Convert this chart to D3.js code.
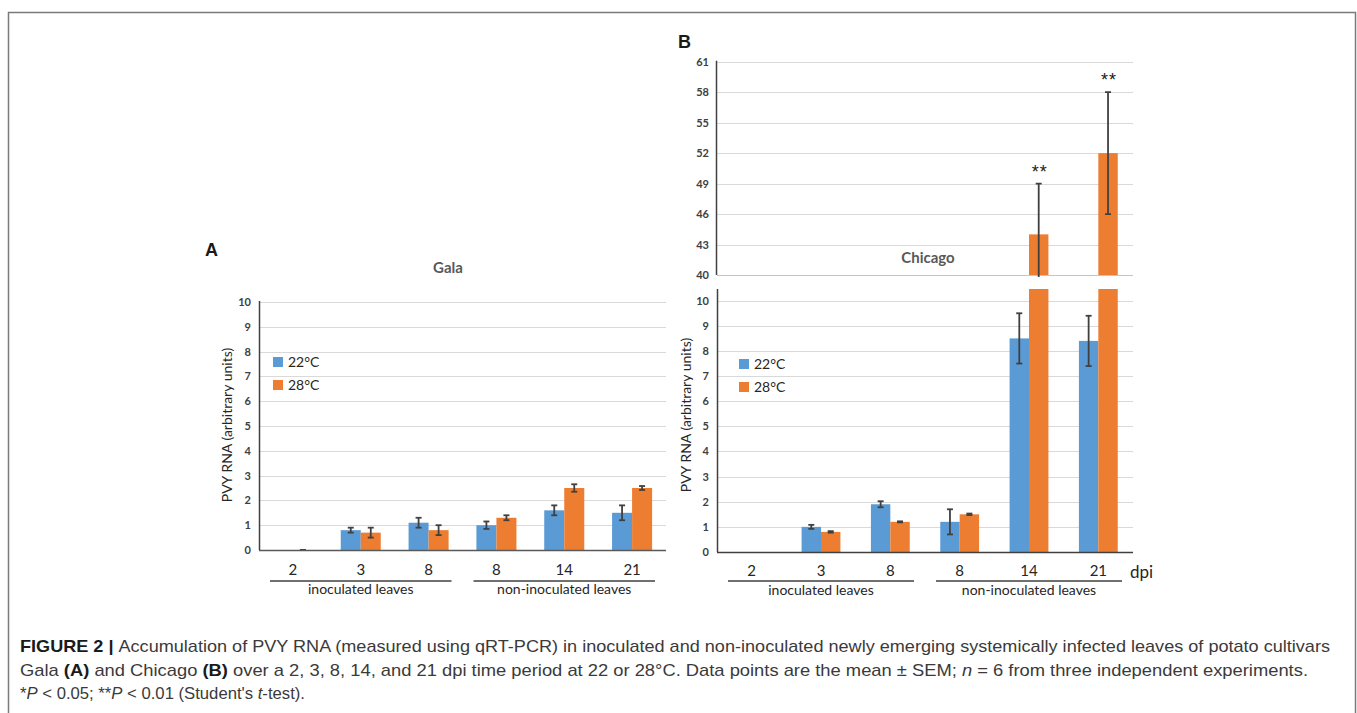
<!DOCTYPE html>
<html>
<head>
<meta charset="utf-8">
<script src="https://cdn.jsdelivr.net/npm/d3@7"></script>
<style>
body { margin: 0; background: #fff; }
svg { display: block; }
.chart text { font-family: Lato, "Open Sans", sans-serif; }
.caption text { font-family: "Liberation Sans", Arial, sans-serif; }
</style>
</head>
<body>
<svg id="fig" width="1357" height="713"></svg>
<script>

// x categories (dpi) and the two leaf groups
const dpiLabels = ["2", "3", "8", "8", "14", "21"];
const leafGroups = [
    { name: "inoculated leaves", from: 0, to: 2 },
    { name: "non-inoculated leaves", from: 3, to: 5 }
];
const series = ["22°C", "28°C"];
const seriesColors = ["#5b9bd5", "#ed7d31"];

// Panel A - Gala
const galaMean22 = [0, 0.8, 1.1, 1.0, 1.6, 1.5];
const galaErr22 = [null, 0.1, 0.2, 0.15, 0.2, 0.3];
const galaMean28 = [0, 0.7, 0.8, 1.3, 2.5, 2.5];
const galaErr28 = [0, 0.2, 0.2, 0.1, 0.15, 0.08];

// Panel B - Chicago
const chiMean22 = [0, 1.0, 1.9, 1.2, 8.5, 8.4];
const chiErr22 = [null, 0.08, 0.12, 0.5, 1.0, 1.0];
const chiMean28 = [0, 0.8, 1.2, 1.5, 44, 52];
const chiErr28 = [null, 0.03, 0.02, 0.03, 5, 6];
const chiStars = ["", "", "", "", "**", "**"];

const lowTicks = [0, 1, 2, 3, 4, 5, 6, 7, 8, 9, 10];
const highTicks = [40, 43, 46, 49, 52, 55, 58, 61];

const svg = d3.select("#fig");

// outer frame
svg.append("rect")
    .attr("x", 8.5).attr("y", 12.5)
    .attr("width", 1347).attr("height", 800)
    .attr("fill", "none")
    .attr("stroke", "#7a7a7a")
    .attr("stroke-width", 1.5);

const chart = svg.append("g").attr("class", "chart");

function toRows(m22, e22, m28, e28){
    return dpiLabels.map((lab, i) => ({
        i: i,
        vals: [
            { s: 0, v: m22[i], e: e22[i] },
            { s: 1, v: m28[i], e: e28[i] }
        ]
    }));
}

function drawGrid(g, y, ticks, x0, x1, bottomColor){
    g.selectAll(null)
        .data(ticks)
        .enter()
        .append("line")
        .attr("x1", x0).attr("x2", x1)
        .attr("y1", d => Math.round(y(d)) + 0.5)
        .attr("y2", d => Math.round(y(d)) + 0.5)
        .attr("stroke", (d, i) => (i === 0 && bottomColor) ? bottomColor : "#d9d9d9")
        .attr("stroke-width", 1.2);

    g.selectAll(null)
        .data(ticks)
        .enter()
        .append("text")
        .attr("x", x0 - 8)
        .attr("y", d => y(d) + 4)
        .attr("text-anchor", "end")
        .style("font-size", "11px")
        .style("font-weight", "bold")
        .attr("fill", "#404040")
        .text(d => d);
}

function drawErr(g, cx, y, v, e, clip){
    if(e === null || e === undefined) return;
    const eg = g.append("g").attr("stroke", "#404040").attr("stroke-width", 1.8);
    if(clip) eg.attr("clip-path", clip);
    eg.append("line")
        .attr("x1", cx).attr("x2", cx)
        .attr("y1", y(v - e)).attr("y2", y(v + e));
    [v - e, v + e].forEach(t => {
        eg.append("line")
            .attr("x1", cx - 3).attr("x2", cx + 3)
            .attr("y1", y(t)).attr("y2", y(t));
    });
}

function drawCategoryAxis(g, x, labelY, lineY, groupY){
    g.selectAll(null)
        .data(dpiLabels)
        .enter()
        .append("text")
        .attr("x", (d, i) => x(i) + x.bandwidth() / 2)
        .attr("y", labelY)
        .attr("text-anchor", "middle")
        .style("font-size", "15px")
        .attr("fill", "#262626")
        .text(d => d);

    leafGroups.forEach(gr => {
        const xa = x(gr.from) - x.step() * x.paddingInner() / 2 + 11;
        const xb = x(gr.to) + x.bandwidth() + x.step() * x.paddingInner() / 2 - 11;
        g.append("line")
            .attr("x1", xa).attr("x2", xb)
            .attr("y1", lineY).attr("y2", lineY)
            .attr("stroke", "#404040")
            .attr("stroke-width", 1.5);
        g.append("text")
            .attr("x", (xa + xb) / 2)
            .attr("y", groupY)
            .attr("text-anchor", "middle")
            .style("font-size", "14px")
            .attr("fill", "#262626")
            .text(gr.name);
    });
}

function drawLegend(g, lx, ly){
    series.forEach((s, k) => {
        g.append("rect")
            .attr("x", lx).attr("y", ly + k * 23)
            .attr("width", 10).attr("height", 10)
            .attr("fill", seriesColors[k]);
        g.append("text")
            .attr("x", lx + 15).attr("y", ly + k * 23 + 10)
            .style("font-size", "14px")
            .attr("fill", "#262626")
            .text(s);
    });
}

function drawYLabel(g, cx, cy){
    g.append("text")
        .attr("transform", `translate(${cx},${cy}) rotate(-90)`)
        .attr("text-anchor", "middle")
        .style("font-size", "14px")
        .attr("fill", "#262626")
        .text("PVY RNA (arbitrary units)");
}

// ---------- Panel A: Gala ----------
{
    const left = 259, right = 666, top = 302, bottom = 550;
    const g = chart.append("g");

    const x = d3.scaleBand()
        .domain(d3.range(dpiLabels.length))
        .range([left, right])
        .paddingInner(0.41)
        .paddingOuter(0.205);
    const xs = d3.scaleBand().domain([0, 1]).range([0, x.bandwidth()]);
    const y = d3.scaleLinear().domain([0, 10]).range([bottom, top]);

    drawGrid(g, y, lowTicks, left, right, null);

    const rows = toRows(galaMean22, galaErr22, galaMean28, galaErr28);
    const cat = g.selectAll(".cat")
        .data(rows)
        .enter()
        .append("g")
        .attr("transform", d => `translate(${x(d.i)},0)`);

    cat.selectAll("rect")
        .data(d => d.vals)
        .enter()
        .append("rect")
        .attr("x", d => xs(d.s))
        .attr("width", xs.bandwidth())
        .attr("y", d => y(d.v))
        .attr("height", d => y(0) - y(d.v))
        .attr("fill", d => seriesColors[d.s]);

    rows.forEach(r => r.vals.forEach(d => {
        drawErr(g, x(r.i) + xs(d.s) + xs.bandwidth() / 2, y, d.v, d.e);
    }));

    // axes lines
    g.append("line").attr("x1", left).attr("x2", right)
        .attr("y1", bottom + 0.5).attr("y2", bottom + 0.5)
        .attr("stroke", "#595959").attr("stroke-width", 1.5);
    g.append("line").attr("x1", left + 0.5).attr("x2", left + 0.5)
        .attr("y1", top - 1).attr("y2", bottom)
        .attr("stroke", "#404040").attr("stroke-width", 1.5);

    drawCategoryAxis(g, x, 575, 581, 594);
    drawLegend(g, 273, 357);
    drawYLabel(g, 232, 425);

    g.append("text")
        .attr("x", 448).attr("y", 273)
        .attr("text-anchor", "middle")
        .style("font-size", "15px")
        .style("font-weight", "bold")
        .attr("fill", "#595959")
        .text("Gala");

    svg.append("text")
        .attr("x", 205).attr("y", 256)
        .style("font-family", "'Liberation Sans', Arial, sans-serif")
        .style("font-size", "18px")
        .style("font-weight", "bold")
        .attr("fill", "#1a1a1a")
        .text("A");
}

// ---------- Panel B: Chicago ----------
{
    const left = 717, right = 1133;
    const lowTop = 289, lowBottom = 552;
    const highTop = 61.7, highBottom = 275;
    const g = chart.append("g");

    const x = d3.scaleBand()
        .domain(d3.range(dpiLabels.length))
        .range([left, right])
        .paddingInner(0.44)
        .paddingOuter(0.22);
    const xs = d3.scaleBand().domain([0, 1]).range([0, x.bandwidth()]);
    const yLow = d3.scaleLinear().domain([0, 10]).range([lowBottom, 300.7]);
    const yHigh = d3.scaleLinear().domain([40, 61]).range([highBottom, highTop]);
    const lowMax = yLow.invert(lowTop);

    const defs = svg.append("defs");
    defs.append("clipPath").attr("id", "clipHigh")
        .append("rect")
        .attr("x", left).attr("y", highTop - 5)
        .attr("width", right - left).attr("height", highBottom + 2 - highTop + 5);

    drawGrid(g, yLow, lowTicks, left, right, null);
    drawGrid(g, yHigh, highTicks, left, right, "#c4c4c4");

    const rows = toRows(chiMean22, chiErr22, chiMean28, chiErr28);

    rows.forEach(r => r.vals.forEach(d => {
        const bx = x(r.i) + xs(d.s);
        const cx = bx + xs.bandwidth() / 2;
        const vLow = Math.min(d.v, lowMax);
        g.append("rect")
            .attr("x", bx)
            .attr("width", xs.bandwidth())
            .attr("y", yLow(vLow))
            .attr("height", yLow(0) - yLow(vLow))
            .attr("fill", seriesColors[d.s]);
        if(d.v > 40){
            g.append("rect")
                .attr("x", bx)
                .attr("width", xs.bandwidth())
                .attr("y", yHigh(d.v))
                .attr("height", yHigh(40) - yHigh(d.v))
                .attr("fill", seriesColors[d.s]);
            drawErr(g, cx, yHigh, d.v, d.e, "url(#clipHigh)");
            if(chiStars[r.i]){
                g.append("text")
                    .attr("x", cx + 1)
                    .attr("y", yHigh(d.v + d.e) - 6)
                    .attr("text-anchor", "middle")
                    .style("font-family", "'Liberation Sans', Arial, sans-serif")
                    .style("font-size", "18px")
                    .style("letter-spacing", "1px")
                    .attr("fill", "#1a1a1a")
                    .text(chiStars[r.i]);
            }
        } else {
            drawErr(g, cx, yLow, d.v, d.e);
        }
    }));

    // axes lines
    g.append("line").attr("x1", left).attr("x2", right)
        .attr("y1", lowBottom + 0.5).attr("y2", lowBottom + 0.5)
        .attr("stroke", "#404040").attr("stroke-width", 1.5);
    g.append("line").attr("x1", left + 0.5).attr("x2", left + 0.5)
        .attr("y1", lowTop).attr("y2", lowBottom)
        .attr("stroke", "#404040").attr("stroke-width", 1.5);
    g.append("line").attr("x1", left - 0.5).attr("x2", left - 0.5)
        .attr("y1", highTop - 1).attr("y2", highBottom)
        .attr("stroke", "#404040").attr("stroke-width", 1.5);

    drawCategoryAxis(g, x, 576, 581, 595);
    drawLegend(g, 739, 359);
    drawYLabel(g, 691, 415);

    g.append("text")
        .attr("x", 1130).attr("y", 578)
        .style("font-size", "17px")
        .attr("fill", "#262626")
        .text("dpi");

    g.append("text")
        .attr("x", 928).attr("y", 263)
        .attr("text-anchor", "middle")
        .style("font-size", "15px")
        .style("font-weight", "bold")
        .attr("fill", "#595959")
        .text("Chicago");

    svg.append("text")
        .attr("x", 678).attr("y", 48)
        .style("font-family", "'Liberation Sans', Arial, sans-serif")
        .style("font-size", "18px")
        .style("font-weight", "bold")
        .attr("fill", "#1a1a1a")
        .text("B");
}

// ---------- caption ----------
const cap = svg.append("g").attr("class", "caption")
    .style("font-size", "16.6px")
    .attr("fill", "#3a3a3a");

const l1 = cap.append("text").attr("x", 20).attr("y", 652)
    .attr("textLength", 1310).attr("lengthAdjust", "spacingAndGlyphs");
l1.append("tspan").style("font-weight", "bold").attr("fill", "#1a1a1a").text("FIGURE 2 | ");
l1.append("tspan").text("Accumulation of PVY RNA (measured using qRT-PCR) in inoculated and non-inoculated newly emerging systemically infected leaves of potato cultivars");

const l2 = cap.append("text").attr("x", 20).attr("y", 676)
    .attr("textLength", 1288).attr("lengthAdjust", "spacingAndGlyphs");
l2.append("tspan").text("Gala ");
l2.append("tspan").style("font-weight", "bold").attr("fill", "#1a1a1a").text("(A)");
l2.append("tspan").text(" and Chicago ");
l2.append("tspan").style("font-weight", "bold").attr("fill", "#1a1a1a").text("(B)");
l2.append("tspan").text(" over a 2, 3, 8, 14, and 21 dpi time period at 22 or 28°C. Data points are the mean ± SEM; ");
l2.append("tspan").style("font-style", "italic").text("n");
l2.append("tspan").text(" = 6 from three independent experiments.");

const l3 = cap.append("text").attr("x", 20).attr("y", 699)
    .attr("textLength", 285).attr("lengthAdjust", "spacingAndGlyphs");
l3.append("tspan").text("*");
l3.append("tspan").style("font-style", "italic").text("P");
l3.append("tspan").text(" < 0.05; **");
l3.append("tspan").style("font-style", "italic").text("P");
l3.append("tspan").text(" < 0.01 (Student's ");
l3.append("tspan").style("font-style", "italic").text("t");
l3.append("tspan").text("-test).");

</script>
</body>
</html>
